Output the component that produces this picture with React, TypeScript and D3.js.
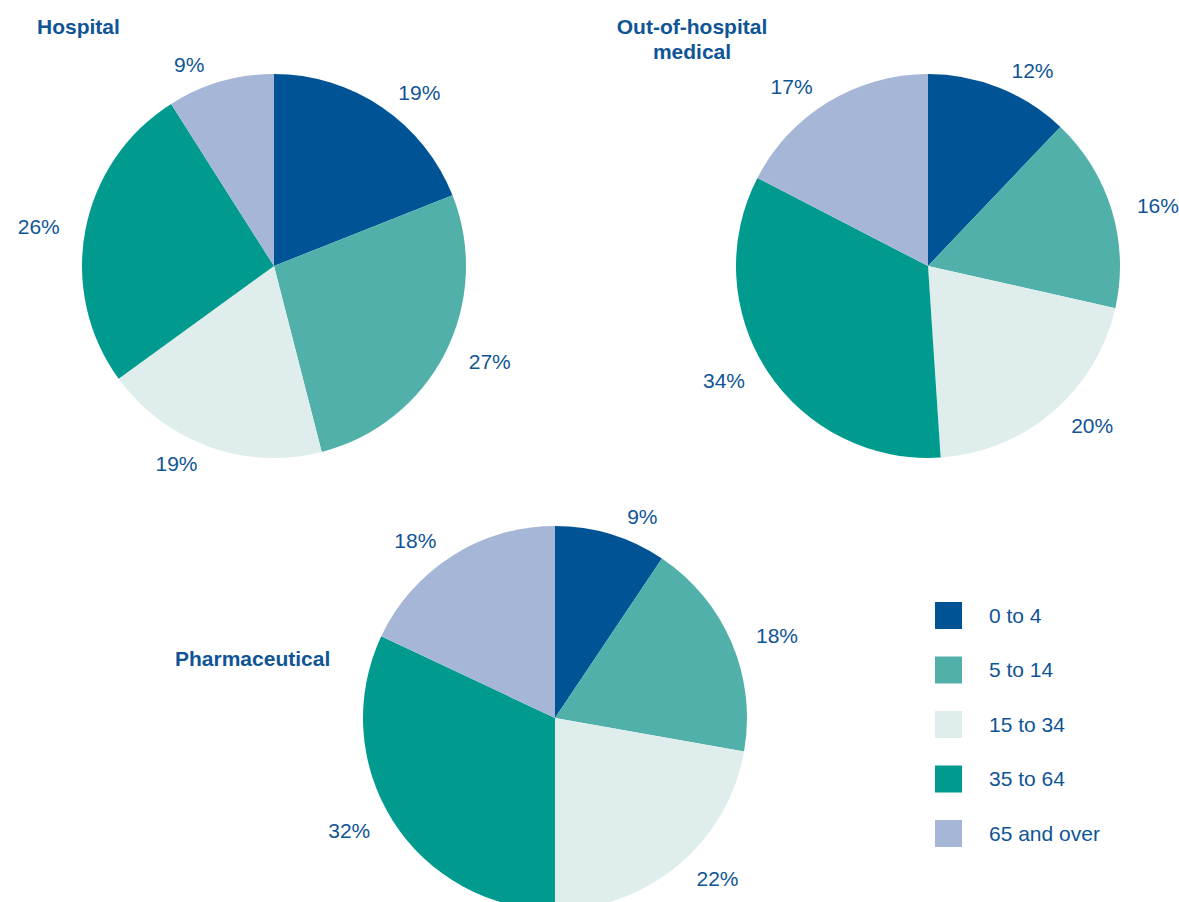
import React from "react";
import * as d3 from "d3";

const categories = ["0 to 4", "5 to 14", "15 to 34", "35 to 64", "65 and over"];
const colors = ["#005496", "#51b0aa", "#dfeeec", "#009b8e", "#a6b6d6"];
const hospital = [19, 27, 19, 26, 9];
const outOfHospital = [12.1, 16.4, 20.4, 33.6, 17.4];
const pharmaceutical = [9.4, 18.4, 22.2, 32.0, 18.0];

const TEXT = "#0f5596";
const FONT = "Liberation Sans, Arial, sans-serif";
const R = 192;
const FS = 21;

type PieProps = { values: number[]; cx: number; cy: number };

function Pie({ values, cx, cy }: PieProps) {
  const pie = d3.pie<number>().sort(null).value((d) => d);
  const arcs = pie(values);
  const arc = d3.arc<d3.PieArcDatum<number>>().innerRadius(0).outerRadius(R);
  return (
    <g transform={`translate(${cx},${cy})`}>
      {arcs.map((a, i) => (
        <path key={i} d={arc(a) || ""} fill={colors[i]} />
      ))}
      {arcs.map((a, i) => {
        const mid = (a.startAngle + a.endAngle) / 2;
        const s = Math.sin(mid);
        const c = Math.cos(mid);
        const x = R * 1.115 * s + Math.sign(s) * 25;
        const y = -(R + 18) * c;
        return (
          <text
            key={"l" + i}
            x={x}
            y={y}
            dy="0.35em"
            textAnchor="middle"
            fill={TEXT}
            fontSize={FS}
            fontFamily={FONT}
          >
            {Math.round(a.data) + "%"}
          </text>
        );
      })}
    </g>
  );
}

export default function App() {
  return (
    <svg
      width={1179}
      height={902}
      style={{ position: "absolute", left: 0, top: 0, background: "#fff" }}
    >
      <Pie values={hospital} cx={274} cy={266} />
      <Pie values={outOfHospital} cx={928} cy={266} />
      <Pie values={pharmaceutical} cx={555} cy={718} />

      <g fill={TEXT} fontFamily={FONT} fontWeight="bold" fontSize={FS}>
        <text x={37} y={34}>Hospital</text>
        <text x={692} y={34} textAnchor="middle">Out-of-hospital</text>
        <text x={692} y={59} textAnchor="middle">medical</text>
        <text x={175} y={666}>Pharmaceutical</text>
      </g>

      <g>
        {categories.map((cat, i) => (
          <g key={cat} transform={`translate(935,${602 + i * 54.5})`}>
            <rect width={27} height={27} fill={colors[i]} />
            <text
              x={54}
              y={13.5}
              dy="0.35em"
              fill={TEXT}
              fontSize={FS}
              fontFamily={FONT}
            >
              {cat}
            </text>
          </g>
        ))}
      </g>
    </svg>
  );
}
